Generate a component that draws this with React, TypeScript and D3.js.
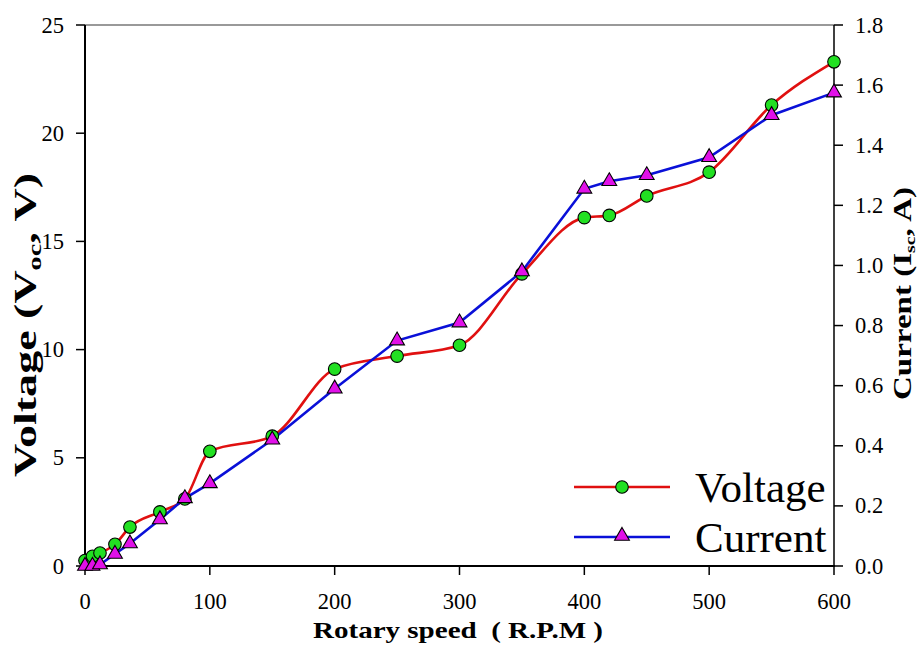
import React from "react";
import * as d3 from "d3";

const rpm = [0, 6, 12, 24, 36, 60, 80, 100, 150, 200, 250, 300, 350, 400, 420, 450, 500, 550, 600];
const voltage = [0.25, 0.45, 0.6, 1.0, 1.8, 2.5, 3.1, 5.3, 6.0, 9.1, 9.7, 10.2, 13.5, 16.1, 16.2, 17.1, 18.2, 21.3, 23.3];
const current = [0.0, 0.0, 0.005, 0.04, 0.075, 0.155, 0.225, 0.275, 0.42, 0.59, 0.75, 0.81, 0.98, 1.255, 1.28, 1.3, 1.36, 1.5, 1.575];
const xTicks = [0, 100, 200, 300, 400, 500, 600];
const vTicks = [0, 5, 10, 15, 20, 25];
const cTicks = [0, 0.2, 0.4, 0.6, 0.8, 1.0, 1.2, 1.4, 1.6, 1.8];

const W = 917, H = 646;
const L = 85, R = 834, T = 25, B = 566;
const font = "'Liberation Serif', serif";

export default function App() {
  const x = d3.scaleLinear().domain([0, 600]).range([L, R]);
  const yV = d3.scaleLinear().domain([0, 25]).range([B, T]);
  const yC = d3.scaleLinear().domain([0, 1.8]).range([B, T]);
  const vPts: [number, number][] = rpm.map((r, i) => [x(r), yV(voltage[i])]);
  const cPts: [number, number][] = rpm.map((r, i) => [x(r), yC(current[i])]);
  const vLine = d3.line().curve(d3.curveMonotoneX)(vPts) as string;
  const cLine = d3.line()(cPts) as string;
  const tri = d3.symbol().type(d3.symbolTriangle).size(95)() as string;
  const red = "#e01010";
  const blue = "#0a10d8";
  const green = "#22e022";
  const magenta = "#e010e8";

  return (
    <svg width={W} height={H} style={{ position: "absolute", left: 0, top: 0, background: "#fff" }} fontFamily={font}>
      {/* top border */}
      <line x1={L} x2={R} y1={T} y2={T} stroke="#777" strokeWidth={1.5} />
      {/* axes */}
      <line x1={L} x2={L} y1={T} y2={B + 1} stroke="#000" strokeWidth={2} />
      <line x1={R} x2={R} y1={T} y2={B + 1} stroke="#000" strokeWidth={1.5} />
      <line x1={L - 1} x2={R + 1} y1={B} y2={B} stroke="#000" strokeWidth={2} />
      {xTicks.map((t) => (
        <g key={"x" + t}>
          <line x1={x(t)} x2={x(t)} y1={B} y2={B + 9} stroke="#000" strokeWidth={1.5} />
          <text x={x(t)} y={609} fontSize={22.5} textAnchor="middle">{t}</text>
        </g>
      ))}
      {vTicks.map((t) => (
        <g key={"v" + t}>
          <line x1={L - 9} x2={L} y1={yV(t)} y2={yV(t)} stroke="#000" strokeWidth={1.5} />
          <text x={64} y={yV(t) + 7.5} fontSize={22.5} textAnchor="end">{t}</text>
        </g>
      ))}
      {cTicks.map((t) => (
        <g key={"c" + t}>
          <line x1={R} x2={R + 9} y1={yC(t)} y2={yC(t)} stroke="#000" strokeWidth={1.5} />
          <text x={855} y={yC(t) + 7.5} fontSize={22.5} textAnchor="start">{t.toFixed(1)}</text>
        </g>
      ))}
      {/* axis titles */}
      <text x={313} y={638} fontSize={24} fontWeight="bold" textLength={290} lengthAdjust="spacingAndGlyphs" xmlSpace="preserve">Rotary speed  ( R.P.M )</text>
      <text transform={`translate(36,477) rotate(-90)`} fontSize={31} fontWeight="bold" textLength={304} lengthAdjust="spacingAndGlyphs">
        Voltage (V<tspan fontSize={19} dy={5}>oc</tspan><tspan dy={-5}>, V)</tspan>
      </text>
      <text transform={`translate(911,400) rotate(-90)`} fontSize={25} fontWeight="bold" textLength={213} lengthAdjust="spacingAndGlyphs">
        Current (I<tspan fontSize={15} dy={4}>sc</tspan><tspan dy={-4}>, A)</tspan>
      </text>
      {/* series */}
      <path d={vLine} fill="none" stroke={red} strokeWidth={2.6} />
      <path d={cLine} fill="none" stroke={blue} strokeWidth={2.6} />
      {vPts.map((p, i) => (
        <circle key={"vp" + i} cx={p[0]} cy={p[1]} r={6.3} fill={green} stroke="#000" strokeWidth={1.1} />
      ))}
      {cPts.map((p, i) => (
        <path key={"cp" + i} d={tri} transform={`translate(${p[0]},${p[1]})`} fill={magenta} stroke="#000" strokeWidth={1.1} />
      ))}
      {/* legend */}
      <line x1={574} x2={670} y1={487} y2={487} stroke={red} strokeWidth={2.6} />
      <circle cx={622} cy={487} r={6.3} fill={green} stroke="#000" strokeWidth={1.1} />
      <text x={695} y={502} fontSize={43}>Voltage</text>
      <line x1={574} x2={670} y1={537} y2={537} stroke={blue} strokeWidth={2.6} />
      <path d={tri} transform="translate(622,536)" fill={magenta} stroke="#000" strokeWidth={1.1} />
      <text x={695} y={552} fontSize={43}>Current</text>
    </svg>
  );
}
